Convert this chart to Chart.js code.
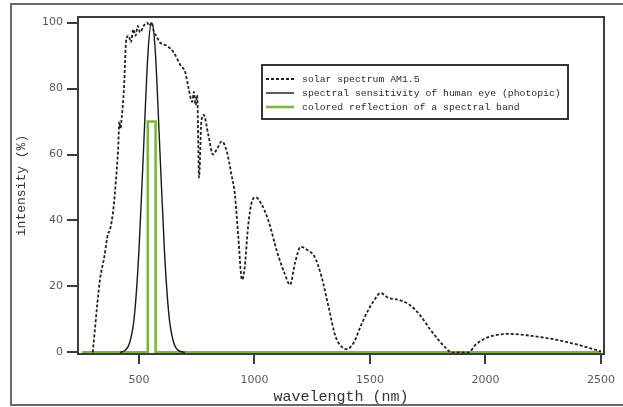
<!DOCTYPE html>
<html>
<head>
<meta charset="utf-8">
<script src="https://cdn.jsdelivr.net/npm/chart.js@4/dist/chart.umd.min.js"></script>
<style>
  html, body { margin: 0; padding: 0; background: #fff; }
  #wrap { position: relative; width: 623px; height: 407px; }
  #frame { position: absolute; left: 10px; top: 3px; width: 620px; height: 403px;
           border-left: 2px solid #6a6a6a; border-top: 2px solid #6a6a6a; border-bottom: 2px solid #6a6a6a; box-sizing: border-box; }
  canvas { position: absolute; left: 0; top: 0; }
</style>
</head>
<body>
<div id="wrap">
  <div id="frame"></div>
  <canvas id="c" width="623" height="407"></canvas>
</div>
<script>
// ---- data ----
const seriesLabels = [
  'solar spectrum AM1.5',
  'spectral sensitivity of human eye (photopic)',
  'colored reflection of a spectral band'
];

const solarX = [300, 320, 331, 350, 366, 374, 390, 400, 410, 415, 420, 425, 435, 445, 455, 465, 475, 485, 495, 505, 520, 535, 545, 555, 565, 575, 590, 620, 650, 680, 700, 715, 730, 738, 745, 752, 760, 770, 780, 800, 820, 840, 858, 880, 900, 915, 930, 946, 958, 972, 990, 1005, 1030, 1060, 1100, 1130, 1154, 1175, 1200, 1230, 1260, 1290, 1320, 1350, 1380, 1400, 1430, 1460, 1490, 1520, 1545, 1580, 1620, 1670, 1720, 1760, 1800, 1833, 1850, 1925, 1960, 2000, 2050, 2100, 2200, 2300, 2400, 2500];
const solarY = [0, 15, 22, 29, 36, 37, 44, 52, 62, 70, 68, 71, 80, 95, 96, 94, 98, 96, 99, 97, 99, 100, 99, 100, 97, 96, 94, 93, 91, 87, 85, 80, 76, 79, 75, 78, 53, 70, 72, 66, 60, 62, 64, 61, 54, 48, 35, 22, 26, 38, 46, 47, 45, 40, 30, 24, 20.5, 27, 32, 31, 29, 23, 14, 5, 1.5, 1, 3, 8, 12.5, 16, 18, 16.5, 16, 14.5, 11, 7, 3.5, 1, 0, 0, 2.5, 4.3, 5.3, 5.6, 5, 3.9, 2.3, 0.3];

const eyeX = [418, 440, 460, 480, 500, 520, 540, 555, 570, 590, 610, 630, 650, 670, 699];
const eyeY = [0, 0.6, 3, 11, 31, 62, 92, 100, 92, 62, 31, 11, 3, 0.6, 0];

const bandX = [253, 538, 538, 572, 572, 2500];
const bandY = [0, 0, 70, 70, 0, 0];

const xTicks = [500, 1000, 1500, 2000, 2500];
const yTicks = [0, 20, 40, 60, 80, 100];

const xTitle = 'wavelength (nm)';
const yTitle = 'intensity (%)';

// ---- build ----
const pts = (xs, ys) => xs.map((x, i) => ({ x: x, y: ys[i] }));
const GREEN = '#7ab83e';
const AXIS = '#3c3c3c';

const frameAndLegend = {
  id: 'frameAndLegend',
  afterDraw(chart) {
    const ctx = chart.ctx;
    const a = chart.chartArea;
    ctx.save();
    // plot box
    ctx.strokeStyle = AXIS;
    ctx.lineWidth = 2;
    ctx.strokeRect(a.left, a.top, a.right - a.left, a.bottom - a.top);
    // legend box
    const lx = 262, ly = 65, lw = 306, lh = 54;
    ctx.fillStyle = '#fff';
    ctx.fillRect(lx, ly, lw, lh);
    ctx.strokeStyle = '#333';
    ctx.lineWidth = 2;
    ctx.strokeRect(lx, ly, lw, lh);
    const ds = chart.data.datasets;
    ds.forEach((d, i) => {
      const y = 79 + i * 14;
      ctx.beginPath();
      ctx.setLineDash(d.borderDash || []);
      ctx.strokeStyle = d.borderColor;
      ctx.lineWidth = d.borderWidth;
      ctx.moveTo(266, y);
      ctx.lineTo(294, y);
      ctx.stroke();
      ctx.setLineDash([]);
      ctx.fillStyle = '#2a2a2a';
      ctx.font = '9.8px "Liberation Mono", "Courier New", monospace';
      ctx.textBaseline = 'middle';
      ctx.fillText(d.label, 302, y);
    });
    ctx.restore();
  }
};

new Chart(document.getElementById('c'), {
  type: 'line',
  data: {
    datasets: [
      { label: seriesLabels[0], data: pts(solarX, solarY), borderColor: '#222', borderWidth: 1.8,
        borderDash: [3, 2], cubicInterpolationMode: 'monotone', pointRadius: 0, fill: false },
      { label: seriesLabels[1], data: pts(eyeX, eyeY), borderColor: '#1a1a1a', borderWidth: 1.4,
        cubicInterpolationMode: 'monotone', pointRadius: 0, fill: false },
      { label: seriesLabels[2], data: pts(bandX, bandY), borderColor: GREEN, borderWidth: 2.6,
        tension: 0, pointRadius: 0, fill: false }
    ]
  },
  options: {
    responsive: false,
    animation: false,
    events: [],
    layout: { padding: { left: 10, top: 17, right: 19, bottom: 0 } },
    plugins: { legend: { display: false }, tooltip: { enabled: false } },
    scales: {
      x: {
        type: 'linear', min: 236, max: 2513,
        afterBuildTicks: s => { s.ticks = xTicks.map(v => ({ value: v })); },
        afterFit: s => { s.height = 53; s.paddingLeft = 0; s.paddingRight = 0; },
        border: { display: true, color: AXIS, width: 2 },
        grid: { drawOnChartArea: false, drawTicks: true, tickLength: 10, color: AXIS, lineWidth: 2 },
        ticks: { color: '#5a5a5a', font: { family: 'DejaVu Sans', size: 11 }, padding: 10, maxRotation: 0,
                 callback: v => String(v) },
        title: { display: true, text: xTitle, color: '#333', font: { family: '"Liberation Mono", monospace', size: 15 }, padding: { top: 0, bottom: 1 } }
      },
      y: {
        type: 'linear', min: -0.5, max: 101.7,
        afterBuildTicks: s => { s.ticks = yTicks.map(v => ({ value: v })); },
        afterFit: s => { s.width = 68; s.paddingTop = 0; s.paddingBottom = 0; },
        border: { display: true, color: AXIS, width: 2 },
        grid: { drawOnChartArea: false, drawTicks: true, tickLength: 11, color: AXIS, lineWidth: 2 },
        ticks: { color: '#5a5a5a', font: { family: 'DejaVu Sans', size: 11 }, padding: 4,
                 callback: v => String(v) },
        title: { display: true, text: yTitle, color: '#333', font: { family: '"Liberation Mono", monospace', size: 13 }, padding: { top: 4, bottom: 4 } }
      }
    }
  },
  plugins: [frameAndLegend]
});
</script>
</body>
</html>
